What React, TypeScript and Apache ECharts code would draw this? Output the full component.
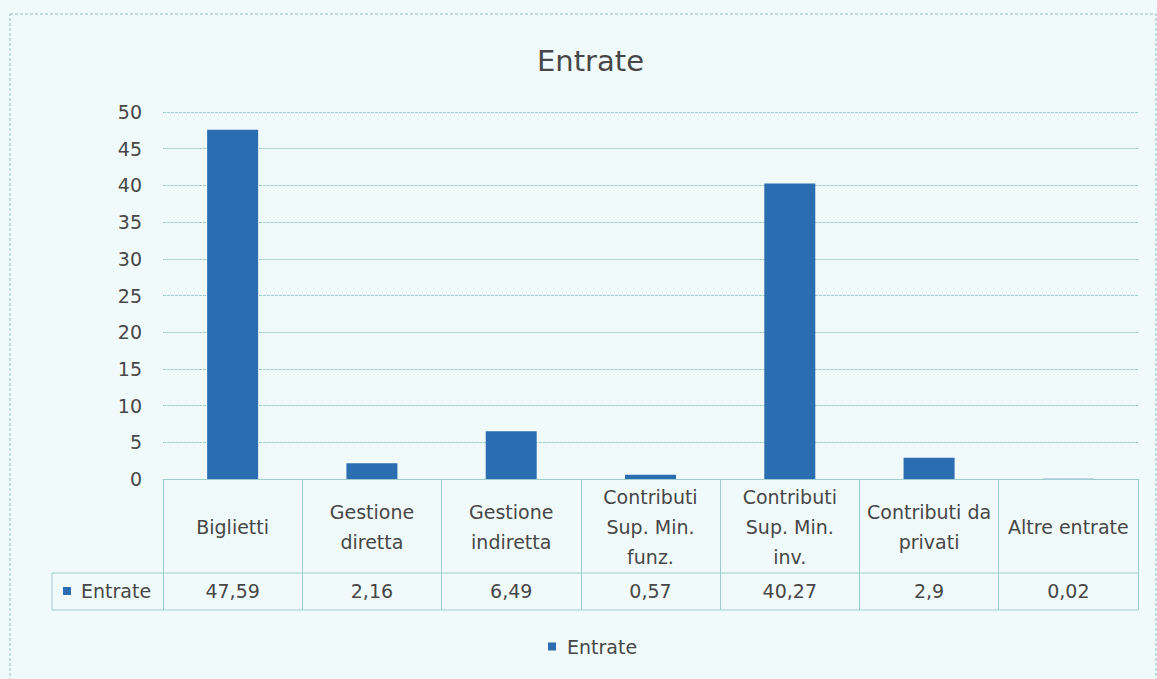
import React, { useEffect, useRef } from "react";
import * as echarts from "echarts";

const title = "Entrate";
const seriesName = "Entrate";
const categories = [
  "Biglietti",
  "Gestione\ndiretta",
  "Gestione\nindiretta",
  "Contributi\nSup. Min.\nfunz.",
  "Contributi\nSup. Min.\ninv.",
  "Contributi da\nprivati",
  "Altre entrate",
];
const values = [47.59, 2.16, 6.49, 0.57, 40.27, 2.9, 0.02];
const yMin = 0;
const yMax = 50;
const yStep = 5;

const fmt = (v: number) => String(v).replace(".", ",");

export default function App() {
  const ref = useRef<HTMLDivElement>(null);
  useEffect(() => {
    if (!ref.current) return;
    const chart = echarts.init(ref.current, undefined, { renderer: "svg" });
    const font = "'DejaVu Sans', sans-serif";
    const textColor = "#474747";
    const lineColor = "#9fcdcd";
    const barColor = "#2a6db0";
    const gridLeft = 163;
    const gridRight = 1138;
    const axisY = 479;
    const rowY = 573;
    const tableBottom = 610;
    const headLeft = 52;
    const fs = 19;
    chart.setOption({
      animation: false,
      backgroundColor: "#f1fafa",
      textStyle: { fontFamily: font },
      title: {
        text: title,
        left: 532,
        top: 41,
        textStyle: { fontSize: 29, fontWeight: "normal", color: textColor, fontFamily: font },
      },
      legend: {
        data: [seriesName],
        bottom: 18,
        left: 543,
        icon: "rect",
        itemWidth: 8,
        itemHeight: 8,
        itemGap: 8,
        formatter: (n: string) => " " + n,
        textStyle: { fontSize: fs, color: textColor, fontFamily: font },
      },
      grid: { left: gridLeft, right: 1157 - gridRight, top: 112, bottom: 679 - axisY, containLabel: false },
      xAxis: [
        {
          type: "category",
          data: categories,
          axisLine: { show: true, lineStyle: { color: lineColor, width: 1 } },
          axisTick: { show: true, length: tableBottom - axisY, lineStyle: { color: lineColor, width: 1 } },
          axisLabel: {
            interval: 0,
            margin: 48,
            verticalAlign: "middle",
            fontSize: fs,
            lineHeight: 30,
            color: textColor,
            fontFamily: font,
          },
        },
        {
          type: "category",
          data: categories,
          position: "bottom",
          axisLine: { show: false },
          axisTick: { show: false },
          axisLabel: {
            interval: 0,
            margin: 112,
            verticalAlign: "middle",
            fontSize: fs,
            color: textColor,
            fontFamily: font,
            formatter: (_v: string, i: number) => fmt(values[i]),
          },
        },
      ],
      yAxis: {
        type: "value",
        min: yMin,
        max: yMax,
        interval: yStep,
        axisLine: { show: false },
        axisTick: { show: false },
        axisLabel: { fontSize: fs, color: textColor, margin: 21, fontFamily: font },
        splitLine: { lineStyle: { color: lineColor, width: 1, type: [3, 1] } },
      },
      series: [
        {
          name: seriesName,
          type: "bar",
          data: values,
          barWidth: 51,
          itemStyle: { color: barColor },
        },
      ],
      graphic: [
        {
          type: "rect",
          shape: { x: 10, y: 14, width: 1146, height: 700 },
          style: { fill: "none", stroke: "#8fbebe", lineWidth: 1, lineDash: [3, 2] },
          silent: true,
        },
        {
          type: "line",
          shape: { x1: headLeft, y1: rowY, x2: gridRight, y2: rowY },
          style: { stroke: lineColor, lineWidth: 1 },
          silent: true,
        },
        {
          type: "line",
          shape: { x1: headLeft, y1: tableBottom, x2: gridRight, y2: tableBottom },
          style: { stroke: lineColor, lineWidth: 1 },
          silent: true,
        },
        {
          type: "line",
          shape: { x1: headLeft, y1: rowY, x2: headLeft, y2: tableBottom },
          style: { stroke: lineColor, lineWidth: 1 },
          silent: true,
        },
        {
          type: "rect",
          shape: { x: 63, y: 587, width: 8, height: 8 },
          style: { fill: barColor },
          silent: true,
        },
        {
          type: "text",
          x: 81,
          y: 591,
          style: {
            text: seriesName,
            fontSize: fs,
            fill: textColor,
            fontFamily: font,
            verticalAlign: "middle",
            align: "left",
          },
          silent: true,
        },
      ],
    });
    return () => chart.dispose();
  }, []);
  return (
    <div
      ref={ref}
      style={{ position: "fixed", left: 0, top: 0, width: 1157, height: 679 }}
    />
  );
}
